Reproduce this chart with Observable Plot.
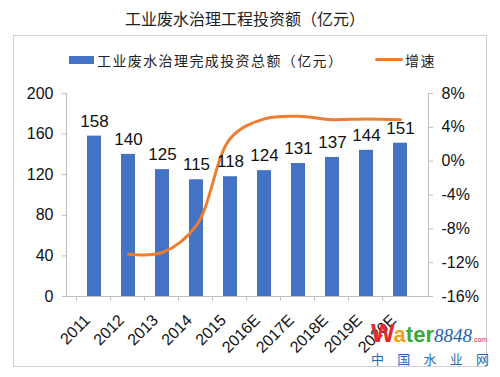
<!DOCTYPE html>
<html>
<head>
<meta charset="utf-8">
<script src="https://cdn.jsdelivr.net/npm/d3@7"></script>
<script src="https://cdn.jsdelivr.net/npm/@observablehq/plot@0.6"></script>
<style>
  html, body { margin: 0; padding: 0; background: #fff; }
  #wrap { position: relative; width: 500px; height: 377px; overflow: hidden; font-family: "Liberation Sans", Arial, sans-serif; }
  #title { position: absolute; left: 0; top: 7px; width: 490px; text-align: center; font-family: "Noto Sans CJK SC", sans-serif; font-size: 16px; color: #222; line-height: 22px; }
  #box { position: absolute; left: 13px; top: 35px; width: 474px; height: 332px; border: 1px solid #d0d0d0; box-sizing: border-box; }
  .leg { position: absolute; font-family: "Noto Sans CJK SC", sans-serif; font-size: 14px; color: #222; line-height: 18px; }
  #chart { position: absolute; left: 0; top: 70px; }
  #wm { position: absolute; left: 371px; top: 322px; width: 120px; font-family: "Liberation Sans", Arial, sans-serif; }
  #wmcn { display: flex; justify-content: space-between; width: 118px; font-family: "Noto Sans CJK SC", sans-serif; font-size: 13px; color: #1c6cc0; line-height: 16px; margin-top: 0px; }
</style>
</head>
<body>
<div id="wrap">
  <div id="title">工业废水治理工程投资额（亿元）</div>
  <div id="box"></div>
  <div id="legend"></div>
  <div id="chart"></div>
  <div id="wm">
    <div style="white-space:nowrap;line-height:22px;">
      <span style="font-size:25px;font-weight:bold;color:#e8262b;letter-spacing:-1px;">W</span><span style="font-size:22px;font-weight:bold;color:#f5a01a;">a</span><span style="font-size:22px;font-weight:bold;color:#3aa83a;">ter</span><span style="font-size:19px;font-style:italic;color:#1c62b0;font-family:'Liberation Serif',serif;">8848</span><span style="font-size:7px;color:#e8262b;">.com</span>
    </div>
    <div id="wmcn"><span>中</span><span>国</span><span>水</span><span>业</span><span>网</span></div>
  </div>
</div>
<script>
const years = ["2011","2012","2013","2014","2015","2016E","2017E","2018E","2019E","2020E"];
const investment = [158, 140, 125, 115, 118, 124, 131, 137, 144, 151];
const growthYears = ["2012","2013","2014","2015","2016E","2017E","2018E","2019E","2020E"];
const growth = [-11.0, -10.8, -7.6, 2.7, 5.0, 5.3, 4.9, 5.0, 4.9];
const leftTicks = [0, 40, 80, 120, 160, 200];
const rightTicks = [-16, -12, -8, -4, 0, 4, 8];
const seriesNames = ["工业废水治理完成投资总额（亿元）", "增速"];

const barColor = "#4472C4";
const lineColor = "#ED7D31";

// map right-axis (%) onto left-axis units
const rMin = d3.min(rightTicks), rMax = d3.max(rightTicks);
const lMin = d3.min(leftTicks), lMax = d3.max(leftTicks);
const toLeft = g => lMin + (g - rMin) / (rMax - rMin) * (lMax - lMin);

const bars = years.map((y, i) => ({year: y, value: investment[i]}));
const line = growthYears.map((y, i) => ({year: y, g: growth[i], v: toLeft(growth[i])}));

// legend
const legend = document.getElementById("legend");
legend.innerHTML = `
  <div style="position:absolute;left:69px;top:56px;width:25px;height:8px;background:${barColor}"></div>
  <div class="leg" style="left:97px;top:51px;letter-spacing:1.4px;">${seriesNames[0]}</div>
  <div style="position:absolute;left:375px;top:58px;width:28px;height:3px;background:${lineColor};border-radius:2px"></div>
  <div class="leg" style="left:405px;top:51px;letter-spacing:1.4px;">${seriesNames[1]}</div>`;

const chart = Plot.plot({
  width: 500,
  height: 307,
  marginLeft: 66,
  marginRight: 72,
  marginTop: 23,
  marginBottom: 81,
  style: {fontFamily: "'Liberation Sans', Arial, sans-serif", color: "#111", background: "transparent", overflow: "visible"},
  x: {domain: years, padding: 0.58, label: null},
  y: {domain: [lMin, lMax], label: null},
  marks: [
    Plot.barY(bars, {x: "year", y: "value", fill: barColor}),
    Plot.ruleY([0], {stroke: "#bfbfbf", strokeWidth: 1}),
    Plot.ruleX(years, {x: d => d, y1: 0, y2: -4.5, dx: -18, stroke: "#bfbfbf"}),
    Plot.frame({anchor: "left", stroke: "#bfbfbf"}),
    Plot.frame({anchor: "right", stroke: "#bfbfbf"}),
    Plot.axisY({anchor: "left", ticks: leftTicks, tickSize: 4, tickPadding: 9, fontSize: 16, stroke: "#bfbfbf", label: null}),
    Plot.axisY({anchor: "right", ticks: rightTicks.map(toLeft), tickFormat: v => {
        const g = Math.round(rMin + (v - lMin) / (lMax - lMin) * (rMax - rMin));
        return g + "%";
      }, tickSize: 4, tickPadding: 9, fontSize: 16, stroke: "#bfbfbf", label: null}),
    Plot.axisX({tickRotate: -45, tickSize: 0, tickPadding: 8, fontSize: 16, dx: -7, dy: 13, label: null}),
    Plot.line(line, {x: "year", y: "v", stroke: lineColor, strokeWidth: 3, curve: "catmull-rom"}),
    Plot.text(bars, {x: "year", y: "value", text: d => String(d.value), dy: -15, fontSize: 17, fill: "#111"})
  ]
});
document.getElementById("chart").appendChild(chart);
</script>
</body>
</html>
